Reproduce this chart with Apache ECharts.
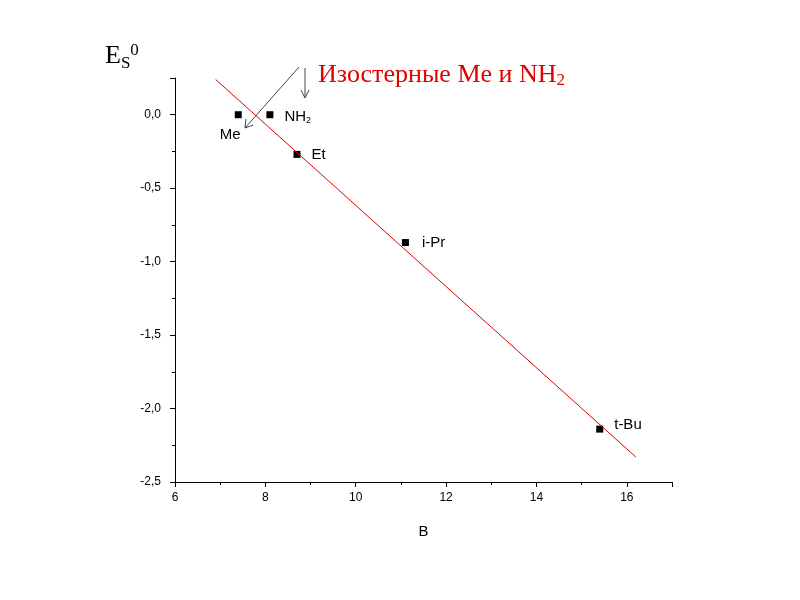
<!DOCTYPE html>
<html lang="en">
<head>
<meta charset="UTF-8">
<title>Es0 vs B</title>
<script src="https://cdn.jsdelivr.net/npm/echarts@6/dist/echarts.min.js"></script>
</head>
<body style="margin:0">
<div id="main" style="width:800px;height:600px;"></div>
<script>
// points: substituent, B, Es0
var names = ['Me', 'NH2', 'Et', 'i-Pr', 't-Bu'];
var bVals = [7.4, 8.1, 8.7, 11.1, 15.4];
var esVals = [0, 0, -0.27, -0.87, -2.14];
// regression line end points
var fitX = [6.9, 16.2];
var fitY = [0.24, -2.33];

var chart = echarts.init(document.getElementById('main'));
var pts = bVals.map(function (b, i) { return [b, esVals[i]]; });
var labelPos = {
  'Me': {position: 'bottom', offset: [-8, 4], formatter: 'Me'},
  'NH2': {position: 'right', offset: [6, 2], formatter: '{a|NH}{s|2}'},
  'Et': {position: 'right', offset: [6, 0], formatter: 'Et'},
  'i-Pr': {position: 'right', offset: [8, 0], formatter: 'i-Pr'},
  't-Bu': {position: 'right', offset: [6, -4], formatter: 't-Bu'}
};
var data = pts.map(function (p, i) {
  var l = labelPos[names[i]];
  return {value: p, label: {show: true, position: l.position, offset: l.offset, formatter: l.formatter,
    color: '#000', fontSize: 15, fontFamily: 'Arial',
    rich: {a: {fontSize: 15, color: '#000'}, s: {fontSize: 9, color: '#000', verticalAlign: 'bottom', padding: [8, 0, 0, 0]}}}};
});

var fmt = function (v) { return v.toFixed(1).replace('.', ','); };

var option = {
  animation: false,
  backgroundColor: '#fff',
  grid: {left: 175, right: 128, top: 78, bottom: 118},
  xAxis: {
    type: 'value', min: 6, max: 17, interval: 2,
    name: 'B', nameLocation: 'middle', nameGap: 42,
    nameTextStyle: {fontSize: 15, color: '#000', fontFamily: 'Arial'},
    axisLine: {onZero: false, lineStyle: {color: '#000'}},
    axisTick: {inside: false, length: 5, lineStyle: {color: '#000'}},
    minorTick: {show: true, splitNumber: 2, length: 3, lineStyle: {color: '#000'}},
    axisLabel: {color: '#000', fontSize: 12, fontFamily: 'Arial', margin: 10,
      formatter: function (v) { return v <= 16 ? v : ''; }},
    splitLine: {show: false}
  },
  yAxis: {
    type: 'value', min: -2.5, max: 0.25, interval: 0.5,
    axisLine: {show: true, onZero: false, lineStyle: {color: '#000'}},
    axisTick: {length: 5, lineStyle: {color: '#000'}},
    minorTick: {show: true, splitNumber: 2, length: 3, lineStyle: {color: '#000'}},
    axisLabel: {color: '#000', fontSize: 12, fontFamily: 'Arial', margin: 14,
      formatter: function (v) { return v > 0.1 ? '' : fmt(v); }},
    splitLine: {show: false}
  },
  series: [
    {type: 'line', data: [[fitX[0], fitY[0]], [fitX[1], fitY[1]]], symbol: 'none',
     lineStyle: {color: '#e00000', width: 1}, silent: true},
    {type: 'scatter', data: data, symbol: 'rect', symbolSize: 7, itemStyle: {color: '#000', opacity: 1}}
  ],
  graphic: [
    {type: 'text', left: 105, top: 42, style: {
      text: '{e|E}{s|S}{z|0}', rich: {
        e: {fontSize: 26, fontFamily: 'Times New Roman, Liberation Serif, serif', fill: '#000'},
        s: {fontSize: 17, fontFamily: 'Liberation Serif, serif', fill: '#000', padding: [14, 0, 0, 0]},
        z: {fontSize: 17, fontFamily: 'Liberation Serif, serif', fill: '#000', padding: [0, 0, 12, 0]}}}},
    {type: 'text', left: 318, top: 62, style: {
      text: '{a|Изостерные Me и NH}{b|2}', rich: {
        a: {fontSize: 26, fontFamily: 'Liberation Serif, serif', fill: '#e00000'},
        b: {fontSize: 17, fontFamily: 'Liberation Serif, serif', fill: '#e00000', padding: [12, 0, 0, 0]}}}},
    {type: 'line', shape: {x1: 299, y1: 67, x2: 245, y2: 128}, style: {stroke: '#444', lineWidth: 1}},
    {type: 'polyline', shape: {points: [[246, 119], [245, 128], [253, 125]]}, style: {stroke: '#444', lineWidth: 1, fill: null}},
    {type: 'line', shape: {x1: 305, y1: 68, x2: 305, y2: 97}, style: {stroke: '#444', lineWidth: 1}},
    {type: 'polyline', shape: {points: [[301, 90], [305, 98], [309, 90]]}, style: {stroke: '#444', lineWidth: 1, fill: null}}
  ]
};
chart.setOption(option);
</script>
</body>
</html>
